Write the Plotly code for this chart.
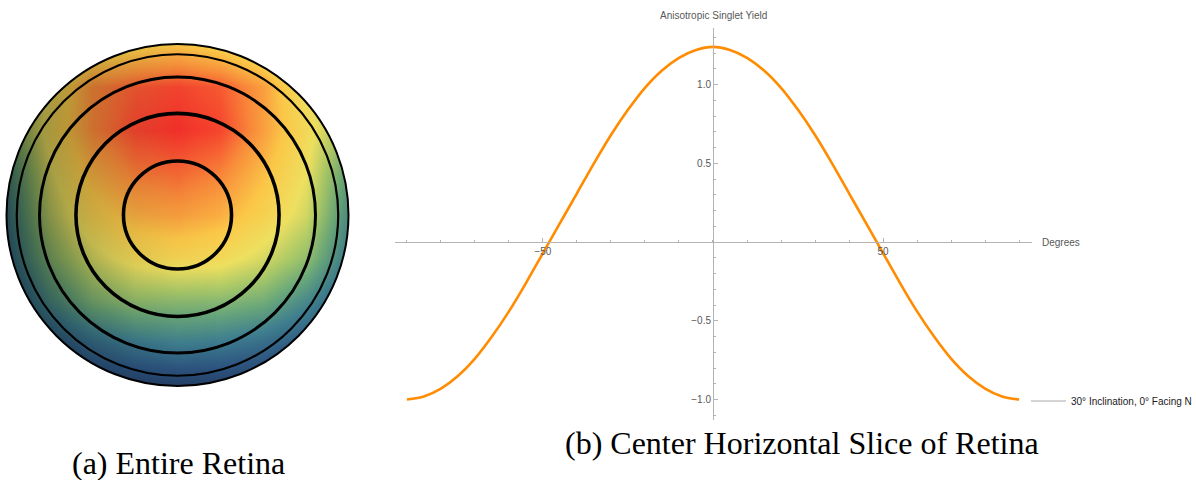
import numpy as np
import plotly.graph_objects as go

# ---------------- data ----------------
# Centre horizontal slice: anisotropic singlet yield vs. angle (degrees)
degrees = list(range(-90, 91, 5))
singlet_yield = [
    -1.00, -0.98, -0.93, -0.85, -0.74, -0.60, -0.44, -0.26, -0.07, 0.12,
    0.31, 0.50, 0.68, 0.84, 0.98, 1.09, 1.17, 1.22, 1.24,
    1.22, 1.17, 1.09, 0.98, 0.84, 0.68, 0.50, 0.31, 0.12, -0.07,
    -0.26, -0.44, -0.60, -0.74, -0.85, -0.93, -0.98, -1.00,
]
series_name = "30° Inclination, 0° Facing N"

# Whole retina, seen from above: normalised coordinates of the sample grid
grid_x = [-1.0, -0.75, -0.5, -0.25, 0.0, 0.25, 0.5, 0.75, 1.0]
grid_y = [1.0, 0.75, 0.5, 0.25, 0.0, -0.25, -0.5, -0.75, -1.0]
# relative yield level on the retina (rows follow grid_y, columns grid_x)
retina_level = [
    [0.40, 0.50, 0.62, 0.70, 0.74, 0.70, 0.62, 0.52, 0.42],
    [0.45, 0.62, 0.86, 0.93, 0.96, 0.93, 0.82, 0.62, 0.50],
    [0.40, 0.66, 0.86, 0.96, 0.99, 0.96, 0.82, 0.66, 0.48],
    [0.30, 0.60, 0.78, 0.88, 0.91, 0.87, 0.76, 0.62, 0.36],
    [0.25, 0.54, 0.70, 0.79, 0.82, 0.79, 0.70, 0.57, 0.30],
    [0.20, 0.44, 0.58, 0.66, 0.68, 0.66, 0.58, 0.46, 0.24],
    [0.10, 0.30, 0.42, 0.46, 0.45, 0.44, 0.40, 0.28, 0.14],
    [0.05, 0.12, 0.19, 0.23, 0.25, 0.23, 0.19, 0.12, 0.05],
    [0.00, 0.00, 0.02, 0.03, 0.03, 0.03, 0.02, 0.00, 0.00],
]
# lighting falloff across the hemisphere (per column of grid_x)
retina_shadow = [0.40, 0.30, 0.18, 0.08, 0.02, 0.0, 0.0, 0.0, 0.04]
# latitude rings drawn on the retina (fraction of the outer radius)
ring_radii = [0.316, 0.594, 0.807, 0.94, 1.0]
ring_widths = [3.6, 3.6, 3.0, 2.2, 2.0]

# ---------------- styling ----------------
W, H = 1196, 480
AXIS_GREY = "#b4b4b4"
LABEL_GREY = "#585858"
ORANGE = "#ff8c00"

level_scale = [
    [0.00, "#22395f"],
    [0.12, "#2d5580"],
    [0.25, "#3f7f8f"],
    [0.38, "#6aa87a"],
    [0.50, "#a8c868"],
    [0.62, "#eee060"],
    [0.74, "#fbc848"],
    [0.86, "#f88a3a"],
    [1.00, "#f52a2a"],
]
shadow_scale = [[0.0, "rgba(0,0,0,0)"], [1.0, "rgba(0,0,0,1)"]]


def px_x(p):
    return p / W


def px_y(p):
    return 1 - p / H


fig = go.Figure()

# ---------------- (a) retina disk ----------------
disk_cx, disk_cy, disk_r = 177.5, 215.0, 171.0
lim = 1.025
fig.add_trace(go.Heatmap(
    x=grid_x, y=grid_y, z=retina_level, zmin=0, zmax=1,
    colorscale=level_scale, zsmooth="best", showscale=False,
    hoverinfo="skip", xaxis="x2", yaxis="y2",
))
fig.add_trace(go.Heatmap(
    x=grid_x, y=grid_y, z=[retina_shadow for _ in grid_y], zmin=0, zmax=1,
    colorscale=shadow_scale, zsmooth="best", showscale=False,
    hoverinfo="skip", xaxis="x2", yaxis="y2",
))

# white mask around the disk (square with a circular hole)
theta = np.linspace(0, 2 * np.pi, 241)
hole = " ".join(
    ("M" if i == 0 else "L") + f"{np.cos(t):.4f},{np.sin(t):.4f}"
    for i, t in enumerate(theta)
)
mask_path = f"M{-lim},{-lim} L{lim},{-lim} L{lim},{lim} L{-lim},{lim} Z {hole} Z"
shapes = [dict(
    type="path", path=mask_path, xref="x2", yref="y2",
    fillcolor="white", fillrule="evenodd", line=dict(width=0), layer="above",
)]
# white frame hiding the clipped edge of the disk panel
box_x = [px_x(disk_cx - lim * disk_r), px_x(disk_cx + lim * disk_r)]
box_y = [px_y(disk_cy + lim * disk_r), px_y(disk_cy - lim * disk_r)]
shapes.append(dict(
    type="rect", xref="paper", yref="paper",
    x0=box_x[0], x1=box_x[1], y0=box_y[0], y1=box_y[1],
    line=dict(color="white", width=4), fillcolor="rgba(0,0,0,0)", layer="above",
))
for r, w in zip(ring_radii, ring_widths):
    shapes.append(dict(
        type="circle", xref="x2", yref="y2", x0=-r, x1=r, y0=-r, y1=r,
        line=dict(color="black", width=w), layer="above",
    ))

# ---------------- (b) centre slice ----------------
fig.add_trace(go.Scatter(
    x=degrees, y=singlet_yield, mode="lines", name=series_name,
    line=dict(color=ORANGE, width=2.6, shape="spline", smoothing=0.8),
    showlegend=False, xaxis="x", yaxis="y",
))

x_range = [-93.5, 93.8]
y_range = [-1.13, 1.36]
plot_left, plot_right = 395, 1032
plot_top, plot_bottom = 28, 420
x_dom = [px_x(plot_left), px_x(plot_right)]
y_dom = [px_y(plot_bottom), px_y(plot_top)]
# axes cross at the origin
xaxis_pos = y_dom[0] + (0 - y_range[0]) / (y_range[1] - y_range[0]) * (y_dom[1] - y_dom[0])
yaxis_pos = x_dom[0] + (0 - x_range[0]) / (x_range[1] - x_range[0]) * (x_dom[1] - x_dom[0])

tick_font = dict(family="Liberation Sans, Arial, sans-serif", size=10, color=LABEL_GREY)

fig.update_layout(
    width=W, height=H,
    margin=dict(l=0, r=0, t=0, b=0),
    paper_bgcolor="white", plot_bgcolor="rgba(0,0,0,0)",
    showlegend=False,
    xaxis=dict(
        domain=x_dom, range=x_range, anchor="free", position=xaxis_pos,
        showgrid=False, zeroline=False, showline=True, linecolor=AXIS_GREY, linewidth=1,
        tickmode="array", tickvals=[-50, 50], ticktext=["\u221250", "50"],
        ticks="inside", ticklen=4, tickcolor=AXIS_GREY, tickfont=tick_font,
        minor=dict(tickmode="linear", tick0=0, dtick=10, ticks="inside",
                   ticklen=2.5, tickcolor=AXIS_GREY),
        fixedrange=True,
    ),
    yaxis=dict(
        domain=y_dom, range=y_range, anchor="free", position=yaxis_pos,
        showgrid=False, zeroline=False, showline=True, linecolor=AXIS_GREY, linewidth=1,
        tickmode="array", tickvals=[-1.0, -0.5, 0.5, 1.0],
        ticktext=["\u22121.0", "\u22120.5", "0.5", "1.0"],
        ticks="inside", ticklen=4, tickcolor=AXIS_GREY, tickfont=tick_font,
        minor=dict(tickmode="linear", tick0=0, dtick=0.1, ticks="inside",
                   ticklen=2.5, tickcolor=AXIS_GREY),
        fixedrange=True,
    ),
    xaxis2=dict(domain=box_x, range=[-lim, lim], visible=False, anchor="y2", fixedrange=True),
    yaxis2=dict(domain=box_y, range=[-lim, lim], visible=False, anchor="x2", fixedrange=True),
)

# legend entry (grey swatch + label)
shapes.append(dict(
    type="line", xref="paper", yref="paper",
    x0=px_x(1031), x1=px_x(1066), y0=px_y(401), y1=px_y(401),
    line=dict(color="#a8a8a8", width=1),
))
fig.update_layout(shapes=shapes)

label_font = dict(family="Liberation Sans, Arial, sans-serif", size=10, color=LABEL_GREY)
caption_font = dict(family="Liberation Serif, Times New Roman, serif", size=32, color="black")
annotations = [
    dict(text="Anisotropic Singlet Yield", x=px_x(713), y=px_y(15),
         xanchor="center", yanchor="middle", font=label_font),
    dict(text="Degrees", x=px_x(1040), y=px_y(242),
         xanchor="left", yanchor="middle", font=label_font),
    dict(text=series_name, x=px_x(1069), y=px_y(401), xanchor="left", yanchor="middle",
         font=dict(family="Liberation Sans, Arial, sans-serif", size=10, color="#1a1a1a")),
    dict(text="(a) Entire Retina", x=px_x(178), y=px_y(463),
         xanchor="center", yanchor="middle", font=caption_font),
    dict(text="(b) Center Horizontal Slice of Retina", x=px_x(802), y=px_y(443),
         xanchor="center", yanchor="middle", font=caption_font),
]
for a in annotations:
    a.update(xref="paper", yref="paper", showarrow=False)
fig.update_layout(annotations=annotations)

fig.write_html("out.html")
